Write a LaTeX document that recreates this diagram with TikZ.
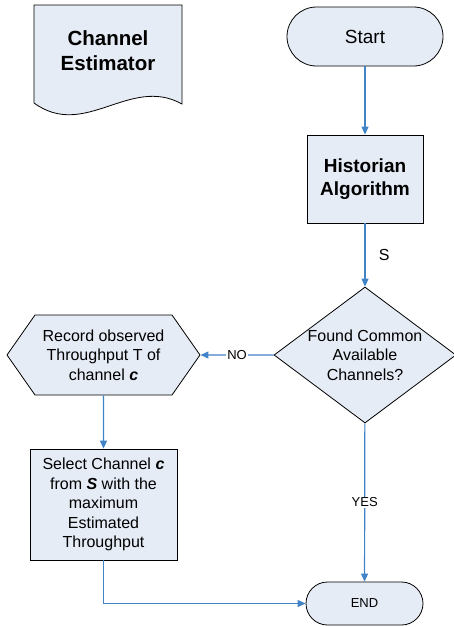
\documentclass[tikz,border=0pt]{standalone}
\usepackage{fontspec}
\setmainfont{Liberation Sans}
\usetikzlibrary{shapes.geometric,shapes.symbols,arrows.meta}
\definecolor{boxfill}{RGB}{230,236,246}
\definecolor{linkblue}{RGB}{65,131,199}
\newcommand{\fs}[1]{\fontsize{#1}{1.22\dimexpr#1pt\relax}\selectfont}
\newcommand{\bi}[1]{\textbf{\textit{#1}}}
\tikzset{
  box/.style={draw=black,line width=0.8pt,fill=boxfill,inner sep=0pt,align=center},
  term/.style={box,rounded corners=#1},
  conn/.style={draw=linkblue,line width=1.2pt,-{Triangle[length=8pt,width=7pt]}},
  lbl/.style={fill=white,inner sep=1pt,font=\fs{13}}
}
\begin{document}
\begin{tikzpicture}[x=1pt,y=-1pt]
  \useasboundingbox (0,0) rectangle (453,627);
  % channel estimator
  \draw[box] (34,5) -- (182,5) -- (182,104) .. controls (130,75) and (85,140) .. (34,103) -- cycle;
  \node[font=\fs{20.5}\bfseries,align=center] (est) at (108,51) {Channel\\Estimator};
  % main flow
  \node[term=29.5pt,minimum width=156pt,minimum height=59pt,font=\fs{19}] (start) at (365,36.5) {Start};
  \node[box,minimum width=116pt,minimum height=88pt,font=\fs{19}\bfseries] (hist) at (365,179) {Historian\\Algorithm};
  \node[box,diamond,aspect=1.33,inner sep=-8pt,minimum width=182pt,minimum height=136pt,font=\fs{16}] (found) at (365,355) {Found Common\\Available\\Channels?};
  \node[box,signal,signal to=west and east,signal pointer angle=110,minimum width=193pt,minimum height=80pt,font=\fs{16}] (record) at (103.5,355) {Record observed\\Throughput T of\\channel \bi{c}};
  \node[box,minimum width=147pt,minimum height=111pt,font=\fs{16}] (select) at (103.5,504.5) {Select Channel \bi{c}\\from \bi{S} with the\\maximum\\Estimated\\Throughput};
  \node[term=21.5pt,minimum width=117pt,minimum height=43pt,font=\fs{13}] (end) at (364.5,603.5) {END};
  % connectors
  \draw[conn] (start) -- (hist);
  \draw[conn] (hist) -- node[right=10pt,font=\fs{16}] (s) {S} (found);
  \draw[conn] (found) -- node[lbl] (no) {NO} (record);
  \draw[conn] (found) -- node[lbl] (yes) {YES} (end);
  \draw[conn] (record) -- (select);
  \draw[conn] (select.south) |- (end.west);
\end{tikzpicture}
\end{document}
